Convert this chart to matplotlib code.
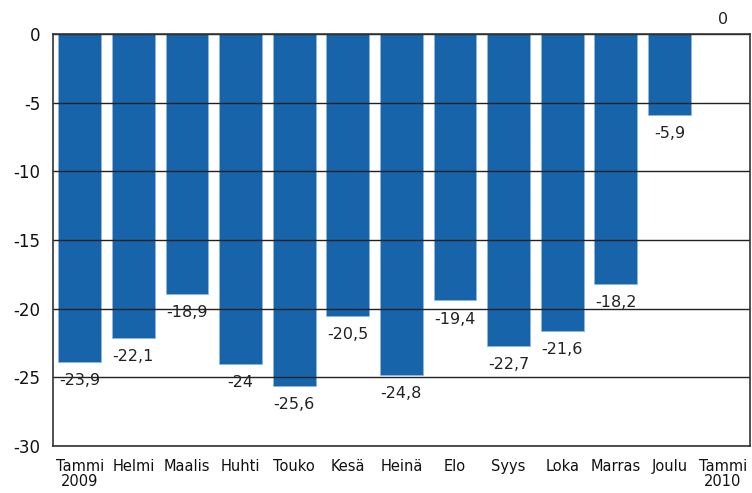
import numpy as np
import matplotlib.pyplot as plt

plt.rcParams['font.family'] = ['DejaVu Sans']

# kuukaudet ja arvot
months = ['Tammi\n2009', 'Helmi', 'Maalis', 'Huhti', 'Touko', 'Kesä', 'Heinä',
          'Elo', 'Syys', 'Loka', 'Marras', 'Joulu', 'Tammi\n2010']
values = [-23.9, -22.1, -18.9, -24.0, -25.6, -20.5, -24.8,
          -19.4, -22.7, -21.6, -18.2, -5.9, 0.0]
yticks = [0, -5, -10, -15, -20, -25, -30]

BAR_COLOR = '#1764ab'

fig = plt.figure(figsize=(7.52, 4.93), dpi=100)
ax = fig.add_axes([0.0705, 0.0953, 0.9265, 0.8357])

x = np.arange(len(months))
ax.bar(x, values, width=0.8, color=BAR_COLOR, edgecolor='#8fb6dc',
       linewidth=0.6, zorder=2)

for xi, v in zip(x, values):
    lbl = ('%g' % v).replace('.', ',')
    if v < 0:
        ax.annotate(lbl, (xi, v), xytext=(0, -8), textcoords='offset points',
                    ha='center', va='top', fontsize=11.5, color='#222222', zorder=1)
    else:
        ax.annotate(lbl, (xi, v), xytext=(0, 5), textcoords='offset points',
                    ha='center', va='bottom', fontsize=11.5, color='#222222',
                    zorder=1, annotation_clip=False)

ax.set_xlim(-0.5, len(months) - 0.5)
ax.set_ylim(-30, 0)
ax.set_yticks(yticks)
ax.set_yticklabels([str(t) for t in yticks], fontsize=12)
ax.set_xticks(x)
ax.set_xticklabels(months, fontsize=10.5, linespacing=1.0)
ax.tick_params(axis='both', length=0, colors='#111111')
ax.tick_params(axis='y', pad=9)
ax.tick_params(axis='x', pad=9)

ax.grid(axis='y', color='#222222', linewidth=1.0, zorder=1.5)
ax.set_axisbelow(False)
for sp in ax.spines.values():
    sp.set_color('#333333')
    sp.set_linewidth(1.2)
    sp.set_zorder(3)

plt.savefig('out.png', dpi=100)
